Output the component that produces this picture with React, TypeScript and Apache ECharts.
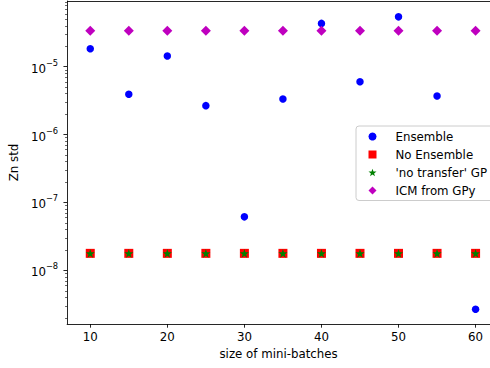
import React, { useEffect, useRef } from "react";
import * as echarts from "echarts";

// Mini-batch sizes on the x axis
const batchSizes = [10, 15, 20, 25, 30, 35, 40, 45, 50, 55, 60];

// Standard deviation of Zn for each method
const ensembleStd = [
  1.84e-5, 3.93e-6, 1.44e-5, 2.67e-6, 6.14e-8, 3.35e-6, 4.35e-5, 6.02e-6, 5.43e-5, 3.71e-6, 2.67e-9,
];
const noEnsembleStd = [
  1.78e-8, 1.78e-8, 1.78e-8, 1.78e-8, 1.78e-8, 1.78e-8, 1.78e-8, 1.78e-8, 1.78e-8, 1.78e-8, 1.78e-8,
];
const noTransferStd = [
  1.78e-8, 1.78e-8, 1.78e-8, 1.78e-8, 1.78e-8, 1.78e-8, 1.78e-8, 1.78e-8, 1.78e-8, 1.78e-8, 1.78e-8,
];
const icmStd = [
  3.38e-5, 3.38e-5, 3.38e-5, 3.38e-5, 3.38e-5, 3.38e-5, 3.38e-5, 3.38e-5, 3.38e-5, 3.38e-5, 3.38e-5,
];

const seriesNames = ["Ensemble", "No Ensemble", "'no transfer' GP", "ICM from GPy"];

// Axis ticks
const xTicks = [10, 20, 30, 40, 50, 60];
const yMajorTicks = [1e-8, 1e-7, 1e-6, 1e-5];
const yMinorTicks = [
  2e-9, 3e-9, 4e-9, 5e-9, 6e-9, 7e-9, 8e-9, 9e-9,
  2e-8, 3e-8, 4e-8, 5e-8, 6e-8, 7e-8, 8e-8, 9e-8,
  2e-7, 3e-7, 4e-7, 5e-7, 6e-7, 7e-7, 8e-7, 9e-7,
  2e-6, 3e-6, 4e-6, 5e-6, 6e-6, 7e-6, 8e-6, 9e-6,
  2e-5, 3e-5, 4e-5, 5e-5, 6e-5, 7e-5, 8e-5, 9e-5,
];

const FONT = "DejaVu Sans";
const FS = 11.8;
const STAR =
  "path://M0,-10L2.35,-3.24L9.51,-3.09L3.8,1.24L5.88,8.09L0,4L-5.88,8.09L-3.8,1.24L-9.51,-3.09L-2.35,-3.24Z";

const pairs = (ys: number[]) => batchSizes.map((x, i) => [x, ys[i]]);

export default function App() {
  const ref = useRef<HTMLDivElement>(null);

  useEffect(() => {
    if (!ref.current) return;
    const chart = echarts.init(ref.current, undefined, { renderer: "svg" });

    const yMin = 1.62e-9;
    const yMax = 9.3e-5;
    const axisLineStyle = { color: "#000", width: 0.85 };

    chart.setOption({
      animation: false,
      backgroundColor: "#fff",
      textStyle: { fontFamily: FONT },
      grid: { left: 67, top: 1, right: 0, bottom: 44, containLabel: false },
      xAxis: {
        type: "value",
        min: 7,
        max: 61.87,
        name: "size of mini-batches",
        nameLocation: "middle",
        nameGap: 24,
        nameTextStyle: { fontFamily: FONT, fontSize: FS, color: "#000" },
        axisLine: { show: true, lineStyle: axisLineStyle },
        axisTick: {
          show: true,
          length: 3.7,
          inside: false,
          customValues: xTicks,
          lineStyle: axisLineStyle,
        },
        axisLabel: {
          customValues: xTicks,
          margin: 7,
          fontFamily: FONT,
          fontSize: FS,
          color: "#000",
        },
        splitLine: { show: false },
      },
      yAxis: [
        {
          type: "log",
          logBase: 10,
          min: yMin,
          max: yMax,
          name: "Zn std",
          nameLocation: "middle",
          nameGap: 42,
          nameTextStyle: { fontFamily: FONT, fontSize: FS, color: "#000" },
          axisLine: { show: true, lineStyle: axisLineStyle },
          axisTick: {
            show: true,
            length: 3.7,
            customValues: yMajorTicks,
            lineStyle: axisLineStyle,
          },
          axisLabel: {
            customValues: yMajorTicks,
            margin: 9,
            formatter: (v: number) => {
              const e = Math.round(Math.log10(v));
              return `{b|10}{s|\u2212${-e}}`;
            },
            rich: {
              b: { fontFamily: FONT, fontSize: FS, color: "#000", lineHeight: 16, verticalAlign: "bottom" },
              s: { fontFamily: FONT, fontSize: 8.3, color: "#000", lineHeight: 16, verticalAlign: "top" },
            },
          },
          splitLine: { show: false },
        },
        {
          type: "log",
          logBase: 10,
          min: yMin,
          max: yMax,
          position: "left",
          axisLine: { show: false },
          axisTick: {
            show: true,
            length: 2.1,
            customValues: yMinorTicks,
            lineStyle: { color: "#000", width: 0.6 },
          },
          axisLabel: { show: false },
          splitLine: { show: false },
        },
      ],
      // top spine
      graphic: [
        {
          type: "line",
          shape: { x1: 67, y1: 1.5, x2: 490, y2: 1.5 },
          style: { stroke: "#000", lineWidth: 0.85 },
          silent: true,
        },
      ],
      legend: {
        orient: "vertical",
        left: 356,
        top: 126,
        padding: [3.5, 10, 3, 12.5],
        itemWidth: 8,
        itemHeight: 8,
        itemGap: 4,
        backgroundColor: "rgba(255,255,255,0.8)",
        borderColor: "#cccccc",
        borderWidth: 1,
        borderRadius: 3,
        textStyle: {
          fontFamily: FONT,
          fontSize: FS,
          color: "#000",
          lineHeight: 14,
          padding: [0, 0, 0, 14],
        },
        data: [
          { name: seriesNames[0], icon: "circle" },
          { name: seriesNames[1], icon: "rect" },
          { name: seriesNames[2], icon: STAR },
          { name: seriesNames[3], icon: "diamond" },
        ],
      },
      series: [
        {
          name: seriesNames[0],
          type: "scatter",
          data: pairs(ensembleStd),
          symbol: "circle",
          symbolSize: 7.5,
          itemStyle: { color: "#0000ff", opacity: 1 },
          z: 2,
        },
        {
          name: seriesNames[1],
          type: "scatter",
          data: pairs(noEnsembleStd),
          symbol: "rect",
          symbolSize: 9,
          itemStyle: { color: "#ff0000", opacity: 1 },
          z: 3,
        },
        {
          name: seriesNames[2],
          type: "scatter",
          data: pairs(noTransferStd),
          symbol: STAR,
          symbolSize: 9,
          symbolKeepAspect: true,
          itemStyle: { color: "#008000", opacity: 1 },
          z: 4,
        },
        {
          name: seriesNames[3],
          type: "scatter",
          data: pairs(icmStd),
          symbol: "diamond",
          symbolSize: 10,
          itemStyle: { color: "#bf00bf", opacity: 1 },
          z: 5,
        },
      ],
    });

    return () => chart.dispose();
  }, []);

  return <div ref={ref} style={{ width: 490, height: 368, position: "absolute", left: 0, top: 0 }} />;
}
